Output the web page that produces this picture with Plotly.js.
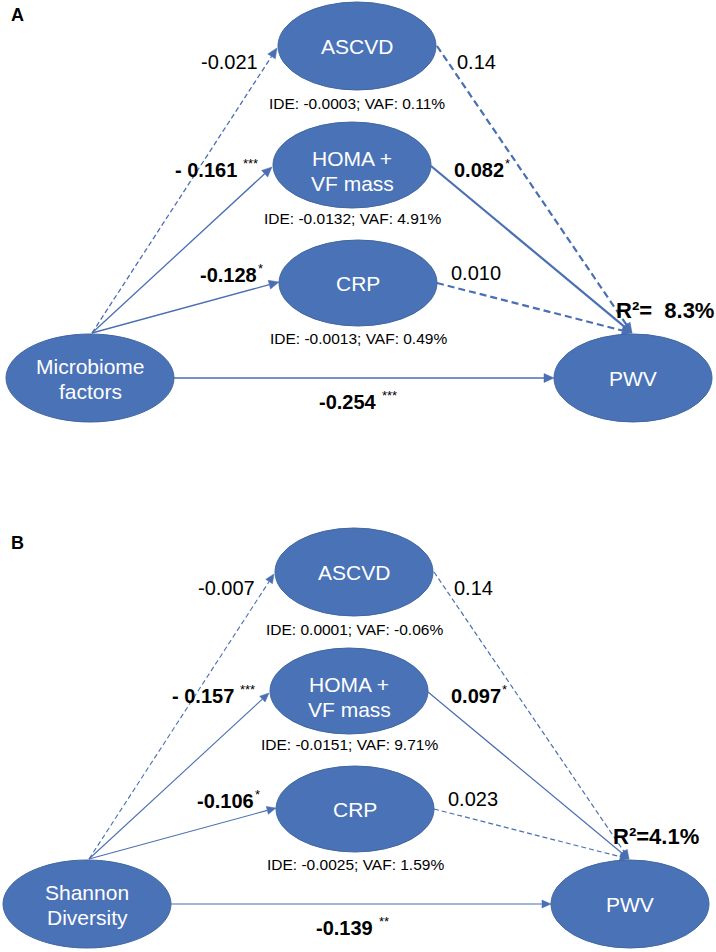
<!DOCTYPE html>
<html>
<head>
<meta charset="utf-8">
<script src="https://cdn.plot.ly/plotly-3.0.1.min.js"></script>
<style>html,body{margin:0;padding:0;background:#fff;}#plot{width:716px;height:952px;}</style>
</head>
<body>
<div id="plot"></div>
<script>
// ---------- DATA ----------
const panelLetters = ['A', 'B'];
const predictorNames = ['Microbiome<br>factors', 'Shannon<br>Diversity'];
const mediatorNames = ['ASCVD', 'HOMA +<br>VF mass', 'CRP'];
const outcomeName = 'PWV';

// path a: predictor -> mediator
const pathA_A = ['-0.021', '- 0.161', '-0.128'];
const sigA_A  = ['', '***', '*'];
const pathA_B = ['-0.007', '- 0.157', '-0.106'];
const sigA_B  = ['', '***', '*'];

// path b: mediator -> outcome
const pathB_A = ['0.14', '0.082', '0.010'];
const sigB_A  = ['', '*', ''];
const pathB_B = ['0.14', '0.097', '0.023'];
const sigB_B  = ['', '*', ''];

// direct path c': predictor -> outcome
const direct_A = '-0.254';
const directSig_A = '***';
const direct_B = '-0.139';
const directSig_B = '**';

// indirect effects and VAF
const ide_A = ['-0.0003', '-0.0132', '-0.0013'];
const vaf_A = ['0.11%', '4.91%', '0.49%'];
const ide_B = ['0.0001', '-0.0151', '-0.0025'];
const vaf_B = ['-0.06%', '9.71%', '1.59%'];

const r2_A = 'R\u00B2=  8.3%';
const r2_B = 'R\u00B2=4.1%';

// ---------- LAYOUT / STYLE ----------
const BLUE = '#4A72B7';
const EDGE = '#41679F';
const LINE = '#4A6FB2';
const FONT = 'Arial, "Liberation Sans", sans-serif';

const panels = [
  {letter: panelLetters[0], dx: 0, dy: 0, pred: predictorNames[0],
   a: pathA_A, aSig: sigA_A, b: pathB_A, bSig: sigB_A, c: direct_A, cSig: directSig_A,
   ide: ide_A, vaf: vaf_A, r2: r2_A, thin: 1.3, thick: 2.2, dashA: '5px,3px', dashB: '7px,4px', head: [10, 4.5]},
  {letter: panelLetters[1], dx: -3, dy: 526, pred: predictorNames[1],
   a: pathA_B, aSig: sigA_B, b: pathB_B, bSig: sigB_B, c: direct_B, cSig: directSig_B,
   ide: ide_B, vaf: vaf_B, r2: r2_B, thin: 1.1, thick: 1.2, dashA: '5px,3px', dashB: '5px,3px', head: [9, 4]}
];

// node geometry (panel A pixel frame)
const medGeom = [{cx: 357, cy: 46, rx: 79, ry: 44}, {cx: 352, cy: 165, rx: 79, ry: 43}, {cx: 358, cy: 283, rx: 79, ry: 43}];
const predGeom = {cx: 90, cy: 378, rx: 84, ry: 44};
const outGeom = {cx: 633, cy: 378, rx: 79, ry: 44};
const medIn = [[277, 48], [272, 167], [279, 282]];
const medOut = [[437, 46], [431, 166], [437, 283]];
const predTop = [92, 333];
const outTop = [632, 333];
const predRight = [174, 378];
const outLeft = [554, 378];
const aLabelPos = [[199, 62], [173, 170], [198, 275]];
const bLabelPos = [[455, 62], [452, 170], [449, 273]];
const cLabelPos = [317, 402];
const r2Pos = [614, 310];
const ideDy = [57, 53, 55];
const letterPos = [9, 15];
const twoLineDy = [[-12, 13], [-7, 18]];

const shapes = [];
const annotations = [];

const ctx = document.createElement('canvas').getContext('2d');
function textWidth(str, size, bold) {
  ctx.font = `${bold ? 'bold ' : ''}${size}px Arial, "Liberation Sans", sans-serif`;
  return ctx.measureText(str).width;
}

function ellipse(g, dx, dy) {
  shapes.push({type: 'circle', xref: 'x', yref: 'y',
    x0: g.cx - g.rx + dx, x1: g.cx + g.rx + dx, y0: g.cy - g.ry + dy, y1: g.cy + g.ry + dy,
    fillcolor: BLUE, line: {color: EDGE, width: 1}, layer: 'above'});
}
function nodeText(text, g, dx, dy, splitDy) {
  const parts = text.split('<br>');
  parts.forEach((p, i) => annotations.push({x: g.cx + dx, y: g.cy + dy + (parts.length > 1 ? splitDy[i] : 0),
    xref: 'x', yref: 'y', text: p, showarrow: false,
    font: {family: FONT, size: 21, color: '#ffffff'}, xanchor: 'center', yanchor: 'middle'}));
}
function arrow(p0, p1, dx, dy, width, dash, head) {
  const x0 = p0[0] + dx, y0 = p0[1] + dy, x1 = p1[0] + dx, y1 = p1[1] + dy;
  const L = Math.hypot(x1 - x0, y1 - y0);
  const ux = (x1 - x0) / L, uy = (y1 - y0) / L;
  const bx = x1 - ux * head[0], by = y1 - uy * head[0];
  shapes.push({type: 'line', xref: 'x', yref: 'y', x0: x0, y0: y0, x1: bx, y1: by,
    line: {color: LINE, width: width, dash: dash || 'solid'}, layer: 'below'});
  const px = -uy * head[1], py = ux * head[1];
  shapes.push({type: 'path', xref: 'x', yref: 'y',
    path: `M ${x1} ${y1} L ${bx + px} ${by + py} L ${bx - px} ${by - py} Z`,
    fillcolor: LINE, line: {color: LINE, width: 0.5}, layer: 'below'});
}
// coefficient with optional significance stars (drawn as small raised text)
function coef(val, sig, x, y) {
  const bold = sig !== '';
  annotations.push({x: x, y: y, xref: 'x', yref: 'y', text: bold ? `<b>${val}</b>` : val, showarrow: false,
    font: {family: FONT, size: 20, color: '#000'}, xanchor: 'left', yanchor: 'middle'});
  if (bold) {
    const w = textWidth(val, 20, true);
    const gap = sig.length > 1 ? 6 : 1;
    annotations.push({x: x + w + gap, y: y - 7, xref: 'x', yref: 'y', text: sig, showarrow: false,
      font: {family: FONT, size: 13, color: '#000'}, xanchor: 'left', yanchor: 'middle'});
  }
}

panels.forEach(P => {
  const dx = P.dx, dy = P.dy;
  for (let i = 0; i < 3; i++) arrow(predTop, medIn[i], dx, dy, P.thin, P.aSig[i] ? null : P.dashA, P.head);
  arrow(predRight, outLeft, dx, dy, P.thin, null, P.head);
  for (let i = 0; i < 3; i++) arrow(medOut[i], outTop, dx, dy, P.thick, P.bSig[i] ? null : P.dashB, P.head);
  medGeom.forEach(g => ellipse(g, dx, dy));
  ellipse(predGeom, dx, dy);
  ellipse(outGeom, dx, dy);
  medGeom.forEach((g, i) => nodeText(mediatorNames[i], g, dx, dy, twoLineDy[1]));
  nodeText(P.pred, predGeom, dx, dy, twoLineDy[0]);
  nodeText(outcomeName, outGeom, dx, dy, null);
  for (let i = 0; i < 3; i++) {
    coef(P.a[i], P.aSig[i], aLabelPos[i][0] + dx, aLabelPos[i][1] + dy);
    coef(P.b[i], P.bSig[i], bLabelPos[i][0] + dx, bLabelPos[i][1] + dy);
    annotations.push({x: medGeom[i].cx + dx, y: medGeom[i].cy + ideDy[i] + dy, xref: 'x', yref: 'y',
      text: `IDE: ${P.ide[i]}; VAF: ${P.vaf[i]}`, showarrow: false,
      font: {family: FONT, size: 15.5, color: '#000'}, xanchor: 'center', yanchor: 'middle'});
  }
  coef(P.c, P.cSig, cLabelPos[0] + dx, cLabelPos[1] + dy);
  annotations.push({x: r2Pos[0] + dx, y: r2Pos[1] + dy, xref: 'x', yref: 'y',
    text: `<b>${P.r2}</b>`, showarrow: false,
    font: {family: FONT, size: 22, color: '#000'}, xanchor: 'left', yanchor: 'middle'});
  annotations.push({x: letterPos[0], y: letterPos[1] + dy + (dy ? 2 : 0), xref: 'x', yref: 'y',
    text: `<b>${P.letter}</b>`, showarrow: false,
    font: {family: FONT, size: 18, color: '#000'}, xanchor: 'left', yanchor: 'middle'});
});

const layout = {
  width: 716, height: 952,
  margin: {l: 0, r: 0, t: 0, b: 0, pad: 0},
  paper_bgcolor: '#ffffff', plot_bgcolor: '#ffffff',
  xaxis: {range: [0, 716], visible: false, fixedrange: true},
  yaxis: {range: [952, 0], visible: false, fixedrange: true},
  shapes: shapes, annotations: annotations, showlegend: false
};
Plotly.newPlot('plot', [], layout, {displayModeBar: false});
</script>
</body>
</html>
